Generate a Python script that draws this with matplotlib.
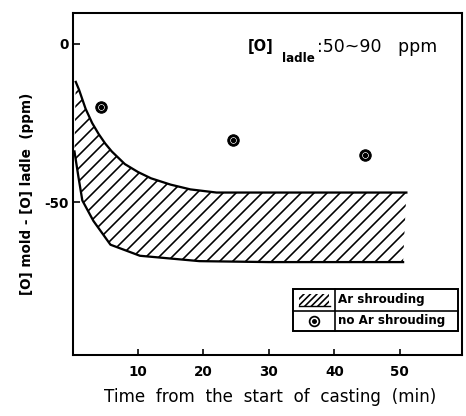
import numpy as np
import matplotlib
matplotlib.use("Agg")
import matplotlib.pyplot as plt
from matplotlib.patches import Rectangle, Polygon

# === Данные ===
# верхняя и нижняя границы заштрихованной области (Ar shrouding)
upper_t = [0.5, 1, 2, 3, 4, 5, 6, 8, 10, 12, 15, 18, 22, 30, 40, 51]
upper_v = [-12, -14.5, -20.5, -25, -28.5, -31.5, -34, -38, -40.5, -42.5, -44.5, -46, -47, -47, -47, -47]
lower_t = [0.3, 0.9, 1.5, 3.2, 5.8, 10.3, 19.4, 30, 40, 50.5]
lower_v = [-34, -42, -49.5, -56, -63.5, -67, -68.7, -69, -69, -69]

# точки без аргона
no_ar_t = [4.35, 24.5, 44.7]
no_ar_v = [-20, -30.5, -35]

x_ticks = [10, 20, 30, 40, 50]
y_ticks = [0, -50]

DPI = 78
plt.rcParams['hatch.linewidth'] = 1.5
plt.rcParams['font.family'] = ['DejaVu Sans']

fig = plt.figure(figsize=(466 / DPI, 416 / DPI), dpi=DPI)
ax = fig.add_axes([0.1556, 0.1466, 0.8358, 0.8221])

# заштрихованная область
band = np.column_stack([upper_t + lower_t[::-1], upper_v + lower_v[::-1]])
ax.add_patch(Polygon(band, closed=True, facecolor='none', edgecolor='black',
                     linewidth=0, hatch='//'))
ax.plot(upper_t, upper_v, color='black', lw=2.1)
ax.plot(lower_t, lower_v, color='black', lw=2.1)

# точки
ax.plot(no_ar_t, no_ar_v, 'o', ms=10.5, color='black')
ax.plot(no_ar_t, no_ar_v, 'o', ms=5, color='white')
ax.plot(no_ar_t, no_ar_v, 'o', ms=3.8, color='black')

ax.set_xlim(0, 59.5)
ax.set_ylim(-98.4, 9.8)
ax.set_xticks(x_ticks)
ax.set_yticks(y_ticks)
ax.set_yticklabels(['0', '-50'])
ax.tick_params(direction='in', length=6, width=1.5, labelsize=12.5)
ax.tick_params(axis='x', pad=9)
for lbl in ax.get_xticklabels() + ax.get_yticklabels():
    lbl.set_fontweight('bold')
for s in ax.spines.values():
    s.set_linewidth(1.9)

ax.set_xlabel('Time  from  the  start  of  casting  (min)', fontsize=15.5)
ax.xaxis.set_label_coords(0.508, -0.096)
ax.set_ylabel('[O] mold - [O] ladle  (ppm)', fontsize=12.5, fontweight='bold')
ax.yaxis.set_label_coords(-0.1, 0.471)

# подпись [O] ladle
ax.text(0.451, 0.901, '[O]', transform=ax.transAxes, fontsize=13.5, fontweight='bold', va='center')
ax.text(0.538, 0.868, 'ladle', transform=ax.transAxes, fontsize=11, fontweight='bold', va='center')
ax.text(0.627, 0.901, ':50~90   ppm', transform=ax.transAxes, fontsize=16, va='center')

# легенда в виде таблицы
x0, x1, xm = 0.567, 0.990, 0.674
y0, y1, ym = 0.070, 0.193, 0.130
ax.add_patch(Rectangle((x0, y0), x1 - x0, y1 - y0, transform=ax.transAxes,
                       facecolor='white', edgecolor='black', lw=1.8, zorder=5))
ax.plot([x0, x1], [ym, ym], transform=ax.transAxes, color='black', lw=1.5, zorder=6)
ax.plot([xm, xm], [y0, y1], transform=ax.transAxes, color='black', lw=1.5, zorder=6)
ax.add_patch(Rectangle((x0 + 0.015, ym + 0.014), xm - x0 - 0.03, y1 - ym - 0.03,
                       transform=ax.transAxes, facecolor='none', edgecolor='black',
                       hatch='////', lw=0, zorder=6))
ax.plot([x0 + 0.015, xm - 0.012], [ym + 0.014, ym + 0.014], transform=ax.transAxes,
        color='black', lw=1.3, zorder=6)
lx, ly = (x0 + xm) / 2, (y0 + ym) / 2
ax.plot([lx], [ly], 'o', transform=ax.transAxes, ms=9, mfc='white', mec='black', mew=1.6, zorder=7)
ax.plot([lx], [ly], 'o', transform=ax.transAxes, ms=3.5, color='black', zorder=8)
ax.text(xm + 0.008, (ym + y1) / 2, 'Ar shrouding', transform=ax.transAxes,
        fontsize=11, fontweight='bold', va='center', zorder=7)
ax.text(xm + 0.008, (y0 + ym) / 2, 'no Ar shrouding', transform=ax.transAxes,
        fontsize=11, fontweight='bold', va='center', zorder=7)

fig.savefig('out.png', dpi=DPI)
